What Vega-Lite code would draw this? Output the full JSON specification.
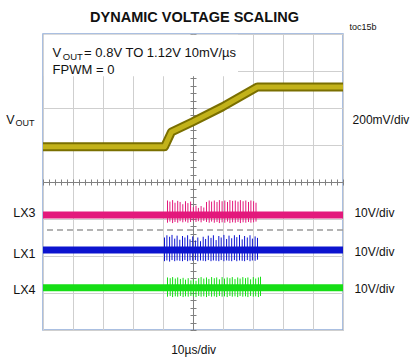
{
  "$schema": "https://vega.github.io/schema/vega-lite/v6.json",
  "width": 300,
  "height": 296,
  "autosize": {"type": "none"},
  "padding": {"left": 43, "top": 34, "right": 71, "bottom": 32},
  "background": "white",
  "config": {
    "view": {"stroke": "#8eaad8", "strokeWidth": 1.5},
    "font": "Liberation Sans",
    "text": {"font": "Liberation Sans", "color": "#111111"}
  },
  "datasets": {
    "bg": [{"x": 0.03, "x2": 6.5, "y": 6.86, "y2": 7.98}],
    "gnd": [{"y": 2.70}],
    "vout": [
      {"x": 0, "y": 4.95}, {"x": 4.05, "y": 4.95}, {"x": 4.28, "y": 5.35}, {"x": 4.98, "y": 5.62},
      {"x": 5.98, "y": 6.03}, {"x": 7.15, "y": 6.57}, {"x": 10, "y": 6.57}
    ],
    "base": [
      {"trace": "LX3", "x": 0, "y": 3.11}, {"trace": "LX3", "x": 10, "y": 3.11},
      {"trace": "LX1", "x": 0, "y": 2.16}, {"trace": "LX1", "x": 10, "y": 2.16},
      {"trace": "LX4", "x": 0, "y": 1.14}, {"trace": "LX4", "x": 10, "y": 1.14}
    ],
    "spikes": [
      {"trace": "LX3", "x": 4.15, "lo": 2.90, "hi": 3.50}, {"trace": "LX3", "x": 4.23, "lo": 2.93, "hi": 3.47},
      {"trace": "LX3", "x": 4.32, "lo": 2.89, "hi": 3.51}, {"trace": "LX3", "x": 4.40, "lo": 2.92, "hi": 3.44},
      {"trace": "LX3", "x": 4.49, "lo": 2.90, "hi": 3.49}, {"trace": "LX3", "x": 4.57, "lo": 2.94, "hi": 3.46},
      {"trace": "LX3", "x": 4.66, "lo": 2.91, "hi": 3.40}, {"trace": "LX3", "x": 4.75, "lo": 2.93, "hi": 3.48},
      {"trace": "LX3", "x": 4.83, "lo": 2.90, "hi": 3.43}, {"trace": "LX3", "x": 4.92, "lo": 2.92, "hi": 3.47},
      {"trace": "LX3", "x": 5.01, "lo": 2.95, "hi": 3.32}, {"trace": "LX3", "x": 5.10, "lo": 2.92, "hi": 3.36},
      {"trace": "LX3", "x": 5.18, "lo": 2.94, "hi": 3.30}, {"trace": "LX3", "x": 5.27, "lo": 2.91, "hi": 3.35},
      {"trace": "LX3", "x": 5.36, "lo": 2.95, "hi": 3.31}, {"trace": "LX3", "x": 5.45, "lo": 2.92, "hi": 3.46},
      {"trace": "LX3", "x": 5.54, "lo": 2.90, "hi": 3.50}, {"trace": "LX3", "x": 5.62, "lo": 2.93, "hi": 3.47},
      {"trace": "LX3", "x": 5.71, "lo": 2.90, "hi": 3.50}, {"trace": "LX3", "x": 5.80, "lo": 2.92, "hi": 3.46},
      {"trace": "LX3", "x": 5.88, "lo": 2.89, "hi": 3.51}, {"trace": "LX3", "x": 5.97, "lo": 2.91, "hi": 3.48},
      {"trace": "LX3", "x": 6.06, "lo": 2.90, "hi": 3.50}, {"trace": "LX3", "x": 6.15, "lo": 2.93, "hi": 3.46},
      {"trace": "LX3", "x": 6.23, "lo": 2.89, "hi": 3.51}, {"trace": "LX3", "x": 6.32, "lo": 2.91, "hi": 3.49},
      {"trace": "LX3", "x": 6.41, "lo": 2.90, "hi": 3.50}, {"trace": "LX3", "x": 6.50, "lo": 2.92, "hi": 3.47},
      {"trace": "LX3", "x": 6.58, "lo": 2.89, "hi": 3.51}, {"trace": "LX3", "x": 6.67, "lo": 2.91, "hi": 3.48},
      {"trace": "LX3", "x": 6.76, "lo": 2.90, "hi": 3.50}, {"trace": "LX3", "x": 6.85, "lo": 2.92, "hi": 3.46},
      {"trace": "LX3", "x": 6.93, "lo": 2.90, "hi": 3.50}, {"trace": "LX3", "x": 7.02, "lo": 2.91, "hi": 3.48},
      {"trace": "LX3", "x": 7.10, "lo": 2.93, "hi": 3.44},
      {"trace": "LX1", "x": 4.05, "lo": 1.86, "hi": 2.50}, {"trace": "LX1", "x": 4.13, "lo": 1.88, "hi": 2.56},
      {"trace": "LX1", "x": 4.22, "lo": 1.85, "hi": 2.52}, {"trace": "LX1", "x": 4.30, "lo": 1.89, "hi": 2.57},
      {"trace": "LX1", "x": 4.39, "lo": 1.86, "hi": 2.47}, {"trace": "LX1", "x": 4.47, "lo": 1.88, "hi": 2.55},
      {"trace": "LX1", "x": 4.56, "lo": 1.87, "hi": 2.44}, {"trace": "LX1", "x": 4.65, "lo": 1.86, "hi": 2.54},
      {"trace": "LX1", "x": 4.73, "lo": 1.89, "hi": 2.50}, {"trace": "LX1", "x": 4.82, "lo": 1.86, "hi": 2.56},
      {"trace": "LX1", "x": 4.90, "lo": 1.88, "hi": 2.45}, {"trace": "LX1", "x": 4.99, "lo": 1.87, "hi": 2.53},
      {"trace": "LX1", "x": 5.08, "lo": 1.89, "hi": 2.42}, {"trace": "LX1", "x": 5.16, "lo": 1.86, "hi": 2.50},
      {"trace": "LX1", "x": 5.25, "lo": 1.88, "hi": 2.40}, {"trace": "LX1", "x": 5.34, "lo": 1.87, "hi": 2.52},
      {"trace": "LX1", "x": 5.42, "lo": 1.86, "hi": 2.46}, {"trace": "LX1", "x": 5.51, "lo": 1.89, "hi": 2.55},
      {"trace": "LX1", "x": 5.60, "lo": 1.86, "hi": 2.49}, {"trace": "LX1", "x": 5.68, "lo": 1.88, "hi": 2.56},
      {"trace": "LX1", "x": 5.77, "lo": 1.87, "hi": 2.43}, {"trace": "LX1", "x": 5.86, "lo": 1.86, "hi": 2.54},
      {"trace": "LX1", "x": 5.94, "lo": 1.89, "hi": 2.50}, {"trace": "LX1", "x": 6.03, "lo": 1.86, "hi": 2.57},
      {"trace": "LX1", "x": 6.12, "lo": 1.88, "hi": 2.46}, {"trace": "LX1", "x": 6.20, "lo": 1.87, "hi": 2.55},
      {"trace": "LX1", "x": 6.29, "lo": 1.86, "hi": 2.48}, {"trace": "LX1", "x": 6.38, "lo": 1.89, "hi": 2.56},
      {"trace": "LX1", "x": 6.46, "lo": 1.86, "hi": 2.51}, {"trace": "LX1", "x": 6.55, "lo": 1.88, "hi": 2.57},
      {"trace": "LX1", "x": 6.64, "lo": 1.87, "hi": 2.45}, {"trace": "LX1", "x": 6.72, "lo": 1.86, "hi": 2.54},
      {"trace": "LX1", "x": 6.81, "lo": 1.89, "hi": 2.50}, {"trace": "LX1", "x": 6.90, "lo": 1.86, "hi": 2.56},
      {"trace": "LX1", "x": 6.98, "lo": 1.88, "hi": 2.47}, {"trace": "LX1", "x": 7.07, "lo": 1.87, "hi": 2.53},
      {"trace": "LX1", "x": 7.15, "lo": 1.90, "hi": 2.49},
      {"trace": "LX4", "x": 4.15, "lo": 0.90, "hi": 1.42}, {"trace": "LX4", "x": 4.24, "lo": 0.92, "hi": 1.40},
      {"trace": "LX4", "x": 4.32, "lo": 0.89, "hi": 1.43}, {"trace": "LX4", "x": 4.41, "lo": 0.91, "hi": 1.39},
      {"trace": "LX4", "x": 4.49, "lo": 0.90, "hi": 1.42}, {"trace": "LX4", "x": 4.58, "lo": 0.92, "hi": 1.38},
      {"trace": "LX4", "x": 4.67, "lo": 0.89, "hi": 1.41}, {"trace": "LX4", "x": 4.75, "lo": 0.91, "hi": 1.36},
      {"trace": "LX4", "x": 4.84, "lo": 0.90, "hi": 1.40}, {"trace": "LX4", "x": 4.93, "lo": 0.92, "hi": 1.34},
      {"trace": "LX4", "x": 5.01, "lo": 0.91, "hi": 1.37}, {"trace": "LX4", "x": 5.10, "lo": 0.89, "hi": 1.33},
      {"trace": "LX4", "x": 5.19, "lo": 0.92, "hi": 1.40}, {"trace": "LX4", "x": 5.27, "lo": 0.90, "hi": 1.43},
      {"trace": "LX4", "x": 5.36, "lo": 0.91, "hi": 1.39}, {"trace": "LX4", "x": 5.45, "lo": 0.89, "hi": 1.42},
      {"trace": "LX4", "x": 5.53, "lo": 0.92, "hi": 1.38}, {"trace": "LX4", "x": 5.62, "lo": 0.90, "hi": 1.43},
      {"trace": "LX4", "x": 5.71, "lo": 0.91, "hi": 1.40}, {"trace": "LX4", "x": 5.79, "lo": 0.89, "hi": 1.42},
      {"trace": "LX4", "x": 5.88, "lo": 0.92, "hi": 1.37}, {"trace": "LX4", "x": 5.97, "lo": 0.90, "hi": 1.43},
      {"trace": "LX4", "x": 6.05, "lo": 0.91, "hi": 1.39}, {"trace": "LX4", "x": 6.14, "lo": 0.89, "hi": 1.42},
      {"trace": "LX4", "x": 6.23, "lo": 0.92, "hi": 1.40}, {"trace": "LX4", "x": 6.31, "lo": 0.90, "hi": 1.43},
      {"trace": "LX4", "x": 6.40, "lo": 0.91, "hi": 1.38}, {"trace": "LX4", "x": 6.49, "lo": 0.89, "hi": 1.42},
      {"trace": "LX4", "x": 6.57, "lo": 0.92, "hi": 1.39}, {"trace": "LX4", "x": 6.66, "lo": 0.90, "hi": 1.43},
      {"trace": "LX4", "x": 6.75, "lo": 0.91, "hi": 1.40}, {"trace": "LX4", "x": 6.83, "lo": 0.89, "hi": 1.42},
      {"trace": "LX4", "x": 6.92, "lo": 0.92, "hi": 1.37}, {"trace": "LX4", "x": 7.01, "lo": 0.90, "hi": 1.43},
      {"trace": "LX4", "x": 7.09, "lo": 0.91, "hi": 1.39}, {"trace": "LX4", "x": 7.18, "lo": 0.89, "hi": 1.42},
      {"trace": "LX4", "x": 7.25, "lo": 0.92, "hi": 1.44}
    ],
    "annot": [
      {"x": 0.32, "y": 7.49, "t": "V"},
      {"x": 1.37, "y": 7.49, "t": "= 0.8V TO 1.12V 10mV/µs"},
      {"x": 0.32, "y": 7.03, "t": "FPWM = 0"}
    ],
    "annotSub": [{"x": 0.66, "y": 7.38, "t": "OUT"}],
    "leftLab": [
      {"x": -0.95, "y": 5.68, "t": "V"},
      {"x": -0.25, "y": 3.16, "t": "LX3"},
      {"x": -0.25, "y": 2.05, "t": "LX1"},
      {"x": -0.25, "y": 1.08, "t": "LX4"}
    ],
    "leftSub": [{"x": -0.28, "y": 5.60, "t": "OUT"}],
    "rightLab": [
      {"x": 10.32, "y": 5.68, "t": "200mV/div"},
      {"x": 10.38, "y": 3.16, "t": "10V/div"},
      {"x": 10.38, "y": 2.10, "t": "10V/div"},
      {"x": 10.38, "y": 1.10, "t": "10V/div"}
    ],
    "bottomLab": [{"x": 5.02, "y": -0.54, "t": "10µs/div"}],
    "titleLab": [{"x": 5.05, "y": 8.43, "t": "DYNAMIC VOLTAGE SCALING"}],
    "tocLab": [{"x": 10.22, "y": 8.19, "t": "toc15b"}]
  },
  "resolve": {"axis": {"x": "independent", "y": "independent"}},
  "layer": [
    {
      "data": {"name": "bg"},
      "mark": {"type": "rect", "fill": "white"},
      "encoding": {
        "x": {"field": "x", "type": "quantitative", "scale": {"domain": [0, 10], "nice": false, "zero": false},
              "axis": {"orient": "bottom", "title": null, "values": [0,1,2,3,4,5,6,7,8,9,10], "grid": true, "gridColor": "#cfcfcf", "gridWidth": 1, "ticks": false, "labels": false, "domain": false}},
        "x2": {"field": "x2"},
        "y": {"field": "y", "type": "quantitative", "scale": {"domain": [0, 8], "nice": false, "zero": false},
              "axis": {"orient": "left", "title": null, "values": [0,1,2,3,4,5,6,7,8], "grid": true, "gridColor": "#cfcfcf", "gridWidth": 1, "ticks": false, "labels": false, "domain": false}},
        "y2": {"field": "y2"}
      }
    },
    {
      "data": {"name": "gnd"},
      "mark": {"type": "rule", "color": "#9a9a9a", "strokeWidth": 1.5, "strokeDash": [6, 4]},
      "encoding": {
        "y": {"field": "y", "type": "quantitative",
              "axis": {"orient": "left", "offset": -150, "title": null, "values": [0,0.2,0.4,0.6,0.8,1,1.2,1.4,1.6,1.8,2,2.2,2.4,2.6,2.8,3,3.2,3.4,3.6,3.8,4,4.2,4.4,4.6,4.8,5,5.2,5.4,5.6,5.8,6,6.2,6.4,6.6,6.8,7,7.2,7.4,7.6,7.8,8], "grid": false, "labels": false, "ticks": true, "tickSize": 3, "tickColor": "#808080", "domain": true, "domainColor": "#808080"}}
      }
    },
    {
      "data": {"name": "vout"},
      "mark": {"type": "line", "color": "#7a6f00", "strokeWidth": 9, "strokeJoin": "round"},
      "encoding": {
        "x": {"field": "x", "type": "quantitative",
              "axis": {"orient": "bottom", "offset": -148, "title": null, "values": [0,0.2,0.4,0.6,0.8,1,1.2,1.4,1.6,1.8,2,2.2,2.4,2.6,2.8,3,3.2,3.4,3.6,3.8,4,4.2,4.4,4.6,4.8,5,5.2,5.4,5.6,5.8,6,6.2,6.4,6.6,6.8,7,7.2,7.4,7.6,7.8,8,8.2,8.4,8.6,8.8,9,9.2,9.4,9.6,9.8,10], "grid": false, "labels": false, "ticks": true, "tickSize": 3, "tickColor": "#808080", "domain": true, "domainColor": "#808080"}},
        "y": {"field": "y", "type": "quantitative",
              "axis": {"orient": "right", "offset": -150, "title": null, "values": [0,0.2,0.4,0.6,0.8,1,1.2,1.4,1.6,1.8,2,2.2,2.4,2.6,2.8,3,3.2,3.4,3.6,3.8,4,4.2,4.4,4.6,4.8,5,5.2,5.4,5.6,5.8,6,6.2,6.4,6.6,6.8,7,7.2,7.4,7.6,7.8,8], "grid": false, "labels": false, "ticks": true, "tickSize": 3, "tickColor": "#808080", "domain": false}}
      }
    },
    {
      "data": {"name": "vout"},
      "mark": {"type": "line", "color": "#c2b21a", "strokeWidth": 5, "strokeJoin": "round"},
      "encoding": {
        "x": {"field": "x", "type": "quantitative",
              "axis": {"orient": "top", "offset": -148, "title": null, "values": [0,0.2,0.4,0.6,0.8,1,1.2,1.4,1.6,1.8,2,2.2,2.4,2.6,2.8,3,3.2,3.4,3.6,3.8,4,4.2,4.4,4.6,4.8,5,5.2,5.4,5.6,5.8,6,6.2,6.4,6.6,6.8,7,7.2,7.4,7.6,7.8,8,8.2,8.4,8.6,8.8,9,9.2,9.4,9.6,9.8,10], "grid": false, "labels": false, "ticks": true, "tickSize": 3, "tickColor": "#808080", "domain": false}},
        "y": {"field": "y", "type": "quantitative", "axis": null}
      }
    },
    {
      "data": {"name": "base"},
      "mark": {"type": "line", "strokeWidth": 7},
      "encoding": {
        "x": {"field": "x", "type": "quantitative", "axis": null},
        "y": {"field": "y", "type": "quantitative", "axis": null},
        "color": {"field": "trace", "type": "nominal", "scale": {"domain": ["LX3", "LX1", "LX4"], "range": ["#e3197c", "#0c14cf", "#16de16"]}, "legend": null}
      }
    },
    {
      "data": {"name": "spikes"},
      "mark": {"type": "rule", "strokeWidth": 1},
      "encoding": {
        "x": {"field": "x", "type": "quantitative", "axis": null},
        "y": {"field": "lo", "type": "quantitative", "axis": null},
        "y2": {"field": "hi"},
        "color": {"field": "trace", "type": "nominal", "legend": null}
      }
    },
    {
      "data": {"name": "annot"},
      "mark": {"type": "text", "fontSize": 13, "align": "left", "baseline": "middle"},
      "encoding": {
        "x": {"field": "x", "type": "quantitative", "axis": null},
        "y": {"field": "y", "type": "quantitative", "axis": null},
        "text": {"field": "t"}
      }
    },
    {
      "data": {"name": "annotSub"},
      "mark": {"type": "text", "fontSize": 9.5, "align": "left", "baseline": "middle"},
      "encoding": {
        "x": {"field": "x", "type": "quantitative", "axis": null},
        "y": {"field": "y", "type": "quantitative", "axis": null},
        "text": {"field": "t"}
      }
    },
    {
      "data": {"name": "leftLab"},
      "mark": {"type": "text", "fontSize": 12.5, "align": "right", "baseline": "middle"},
      "encoding": {
        "x": {"field": "x", "type": "quantitative", "axis": null},
        "y": {"field": "y", "type": "quantitative", "axis": null},
        "text": {"field": "t"}
      }
    },
    {
      "data": {"name": "leftSub"},
      "mark": {"type": "text", "fontSize": 9, "align": "right", "baseline": "middle"},
      "encoding": {
        "x": {"field": "x", "type": "quantitative", "axis": null},
        "y": {"field": "y", "type": "quantitative", "axis": null},
        "text": {"field": "t"}
      }
    },
    {
      "data": {"name": "rightLab"},
      "mark": {"type": "text", "fontSize": 12, "align": "left", "baseline": "middle"},
      "encoding": {
        "x": {"field": "x", "type": "quantitative", "axis": null},
        "y": {"field": "y", "type": "quantitative", "axis": null},
        "text": {"field": "t"}
      }
    },
    {
      "data": {"name": "bottomLab"},
      "mark": {"type": "text", "fontSize": 12, "align": "center", "baseline": "middle"},
      "encoding": {
        "x": {"field": "x", "type": "quantitative", "axis": null},
        "y": {"field": "y", "type": "quantitative", "axis": null},
        "text": {"field": "t"}
      }
    },
    {
      "data": {"name": "titleLab"},
      "mark": {"type": "text", "fontSize": 14.5, "fontWeight": "bold", "align": "center", "baseline": "middle"},
      "encoding": {
        "x": {"field": "x", "type": "quantitative", "axis": null},
        "y": {"field": "y", "type": "quantitative", "axis": null},
        "text": {"field": "t"}
      }
    },
    {
      "data": {"name": "tocLab"},
      "mark": {"type": "text", "fontSize": 9, "align": "left", "baseline": "middle"},
      "encoding": {
        "x": {"field": "x", "type": "quantitative", "axis": null},
        "y": {"field": "y", "type": "quantitative", "axis": null},
        "text": {"field": "t"}
      }
    }
  ]
}
